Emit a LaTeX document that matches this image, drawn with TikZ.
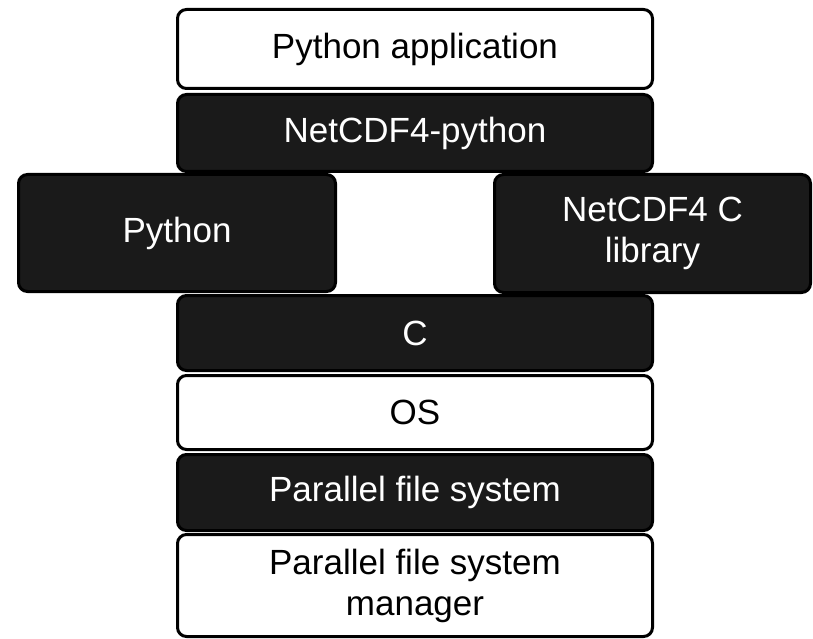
\documentclass[tikz,border=0pt]{standalone}
\usepackage{fontspec}
\setmainfont{Liberation Sans}
\definecolor{boxdark}{HTML}{1A1A1A}
\begin{document}
\begin{tikzpicture}[x=1pt,y=-1pt,
  layer/.style={draw=black, line width=3pt, rounded corners=9pt, inner sep=0pt,
    font=\fontsize{35}{41}\selectfont, align=center},
  lightbox/.style={layer, fill=white, text=black},
  darkbox/.style={layer, fill=boxdark, text=white},
  box/.style n args={2}{minimum width=#1, minimum height=#2}]
\useasboundingbox (0,0) rectangle (813,639);
\node[lightbox, box={475pt}{79pt}] (app) at (415,49) {Python application};
\node[darkbox, box={475pt}{77pt}] (ncpy) at (415,133) {NetCDF4-python};
\node[darkbox, box={317pt}{117pt}] (py) at (177,233) {Python};
\node[darkbox, box={316pt}{118pt}] (ncc) at (652.5,233.5) {NetCDF4 C\\library};
\node[darkbox, box={475pt}{75pt}] (c) at (415,333) {C};
\node[lightbox, box={475pt}{74pt}] (os) at (415,412.5) {OS};
\node[darkbox, box={475pt}{76pt}] (pfs) at (415,492.5) {Parallel file system};
\node[lightbox, box={475pt}{102pt}] (pfsm) at (415,585.5) {Parallel file system\\manager};
\end{tikzpicture}
\end{document}
